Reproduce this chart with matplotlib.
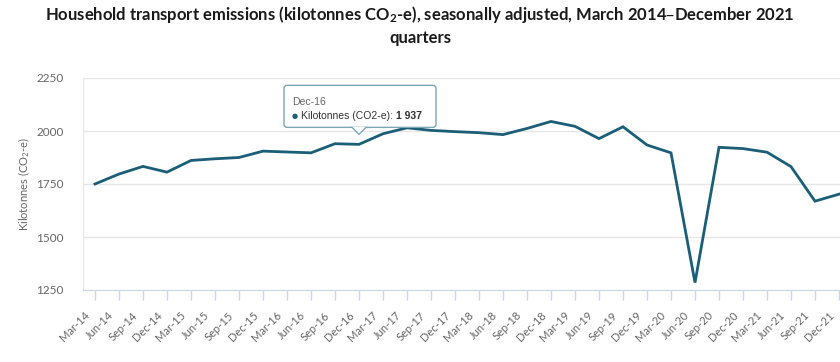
import matplotlib
matplotlib.use("Agg")
import matplotlib.pyplot as plt
import matplotlib.transforms as mtransforms
from matplotlib.patches import FancyBboxPatch, Polygon

# quarterly data, March 2014 - December 2021
quarters = [
    "Mar-14", "Jun-14", "Sep-14", "Dec-14",
    "Mar-15", "Jun-15", "Sep-15", "Dec-15",
    "Mar-16", "Jun-16", "Sep-16", "Dec-16",
    "Mar-17", "Jun-17", "Sep-17", "Dec-17",
    "Mar-18", "Jun-18", "Sep-18", "Dec-18",
    "Mar-19", "Jun-19", "Sep-19", "Dec-19",
    "Mar-20", "Jun-20", "Sep-20", "Dec-20",
    "Mar-21", "Jun-21", "Sep-21", "Dec-21",
]
emissions = [
    1750, 1797, 1833, 1806,
    1861, 1869, 1875, 1905,
    1901, 1897, 1940, 1937,
    1987, 2015, 2003, 1997,
    1992, 1983, 2012, 2045,
    2022, 1964, 2020, 1934,
    1897, 1285, 1923, 1917,
    1900, 1832, 1669, 1702,
]
y_ticks = [1250, 1500, 1750, 2000, 2250]
tooltip_quarter = "Dec-16"

LINE = "#1b5e78"
GRID = "#e6e6e6"
AXIS = "#ccd6eb"
TICK_TEXT = "#666666"

plt.rcParams["font.family"] = ["Lato", "DejaVu Sans"]
plt.rcParams["mathtext.default"] = "regular"

fig = plt.figure(figsize=(8.4, 3.62), dpi=100)
# plot area runs a bit past the right edge (reference is cropped)
ax = fig.add_axes([83 / 840, 1 - 290 / 362, 768 / 840, 212 / 362])

x = list(range(len(quarters)))
ax.plot(x, emissions, color=LINE, lw=2, solid_joinstyle="miter", zorder=3)

ax.set_xlim(-0.5, len(quarters) - 0.5)
ax.set_ylim(y_ticks[0], y_ticks[-1])
ax.set_yticks(y_ticks)
ax.set_xticks(x)
ax.set_xticklabels(quarters, rotation=45, ha="right", va="center",
                   rotation_mode="anchor")

ax.grid(axis="y", color=GRID, lw=1)
ax.set_axisbelow(True)
for side in ["top", "right"]:
    ax.spines[side].set_visible(False)
ax.spines["left"].set_color(GRID)
ax.spines["bottom"].set_color(AXIS)

ax.tick_params(axis="y", length=0, pad=14, labelsize=8.5, labelcolor=TICK_TEXT)
ax.tick_params(axis="x", length=7, width=1, color=AXIS, pad=10,
               labelsize=8, labelcolor=TICK_TEXT)
ax.set_ylabel("Kilotonnes (CO$_2$-e)", fontsize=8, color=TICK_TEXT, labelpad=3)

# nudge rotated labels left so their ends sit just left of the tick
shift = mtransforms.ScaledTranslation(-5 / 72, 0, fig.dpi_scale_trans)
for lbl in ax.get_xticklabels():
    lbl.set_transform(lbl.get_transform() + shift)

fig.suptitle("Household transport emissions (kilotonnes CO$_2$-e), seasonally adjusted, "
             "March 2014\u2013December 2021\nquarters",
             fontsize=12, fontweight="bold", color="#1a1a1a", y=0.99,
             linespacing=1.4)

# tooltip callout anchored on the highlighted quarter (units: pixels from the point)
i = quarters.index(tooltip_quarter)
v = emissions[i]
trans = mtransforms.IdentityTransform() + mtransforms.ScaledTranslation(i, v, ax.transData)
border = "#7aa7b6"
box = FancyBboxPatch((-75, 17), 152, 42, boxstyle="round,pad=0,rounding_size=3",
                     transform=trans, fc="white", ec=border, lw=1,
                     zorder=5, clip_on=False)
fig.add_artist(box)
notch = Polygon([(-7, 17.5), (0, 10), (7, 17.5)], closed=True, transform=trans,
                fc="white", ec="none", zorder=6, clip_on=False)
fig.add_artist(notch)
fig.add_artist(plt.Line2D([-7, 0, 7], [17, 10, 17], transform=trans,
                          color=border, lw=1, zorder=6))
fig.text(-67, 42, tooltip_quarter, transform=trans, fontsize=7.5,
         color="#666666", family=["Liberation Sans"], va="center", zorder=7)
fig.text(-64, 28, "\u25cf", transform=trans, fontsize=5, color=LINE,
         family=["DejaVu Sans"], va="center", ha="center", zorder=7)
label = fig.text(-58, 28, "Kilotonnes (CO2-e):", transform=trans, fontsize=7.5,
                 color="#333333", family=["Liberation Sans"], va="center", zorder=7)
fig.canvas.draw()
# bold value placed right after the series name
end = label.get_window_extent().x1 - trans.transform((0, 0))[0]
fig.text(end + 3, 28, f"{v:,}".replace(",", " "), transform=trans, fontsize=7.5,
         color="#333333", fontweight="bold", family=["Liberation Sans"],
         va="center", ha="left", zorder=7)

fig.savefig("out.png", dpi=100, facecolor="white")
